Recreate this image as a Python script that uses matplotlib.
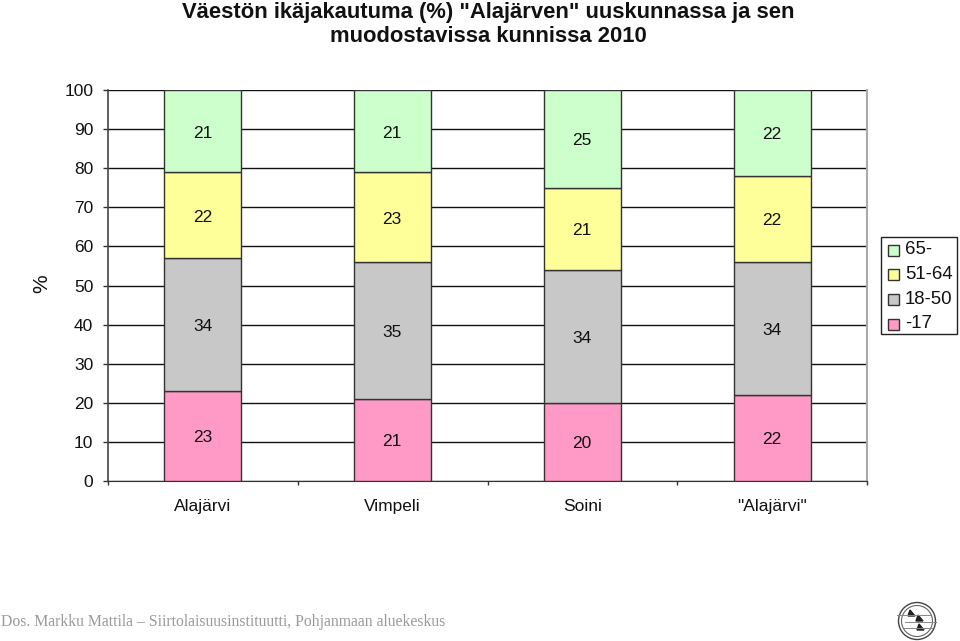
import matplotlib
matplotlib.use("Agg")
import matplotlib.pyplot as plt
import matplotlib.patches as patches
from matplotlib.lines import Line2D

plt.rcParams['font.family'] = ['Liberation Sans', 'DejaVu Sans']

# Data
places = ['Alajärvi', 'Vimpeli', 'Soini', '"Alajärvi"']
age_under18 = [23, 21, 20, 22]
age_18_50 = [34, 35, 34, 34]
age_51_64 = [22, 23, 21, 22]
age_65 = [21, 21, 25, 22]
series_names = ['-17', '18-50', '51-64', '65-']
yticks = [0, 10, 20, 30, 40, 50, 60, 70, 80, 90, 100]

W, H = 960, 641
colours = ['#ff99c6', '#c8c8c8', '#ffff99', '#ccffcc']

fig = plt.figure(figsize=(W / 100, H / 100), dpi=100)
ax = fig.add_axes([108 / W, 1 - 481 / H, (867 - 108) / W, (481 - 90) / H])

# Stacked bars, bottom series first
bottom = [0, 0, 0, 0]
for vals, col, name in zip([age_under18, age_18_50, age_51_64, age_65], colours, series_names):
	ax.bar(range(4), vals, 0.405, bottom=bottom, color=col, edgecolor='#333333', linewidth=1.0, label=name, zorder=3)
	for i in range(4):
		ax.text(i - 0.002, bottom[i] + vals[i] / 2 - 0.5, str(vals[i]), ha='center', va='center', fontsize=12.5, color='#111111', zorder=4)
	bottom = [b + v for b, v in zip(bottom, vals)]

ax.set_xlim(-0.5, 3.5)
ax.set_ylim(0, 100)
ax.set_yticks(yticks)
ax.set_xticks([-0.5, 0.5, 1.5, 2.5, 3.5])
ax.set_xticklabels([])
ax.tick_params(axis='y', length=3.6, width=1, color='#333333', labelsize=12.5, pad=7, labelcolor='#111111')
ax.tick_params(axis='x', length=3.2, width=1, color='#333333')
ax.grid(axis='y', color='#111111', linewidth=1.0, zorder=0)
ax.set_axisbelow(True)
ax.spines['top'].set_visible(False)
ax.spines['left'].set_color('#444444')
ax.spines['left'].set_linewidth(1.2)
ax.spines['bottom'].set_color('#333333')
ax.spines['right'].set_color('#aaaaaa')
ax.spines['right'].set_linewidth(1.5)

for i, p in enumerate(places):
	ax.text(i, -6.5, p, ha='center', va='center', fontsize=12.5, color='#111111')

fig.text(42 / W, 1 - 284 / H, '%', rotation=90, ha='center', va='center', fontsize=15, color='#111111')
fig.text(488 / W, 1 - 12.5 / H, 'Väestön ikäjakautuma (%) "Alajärven" uuskunnassa ja sen', ha='center', va='center',
	fontsize=15.8, fontweight='bold', color='#111111')
fig.text(488 / W, 1 - 36.5 / H, 'muodostavissa kunnissa 2010', ha='center', va='center',
	fontsize=15.8, fontweight='bold', color='#111111')

# Legend drawn by hand, the box has uneven margins
lx = fig.add_axes([0, 0, 1, 1], facecolor='none')
lx.set_xlim(0, W)
lx.set_ylim(H, 0)
lx.axis('off')
lx.add_patch(patches.Rectangle((881, 236.5), 76, 97, fc='white', ec='#222222', lw=1.0))
rows = [250, 274.5, 299, 324]
for row, name, col in zip(rows, series_names[::-1], colours[::-1]):
	lx.add_patch(patches.Rectangle((888, row - 5.5), 11, 11, fc=col, ec='#333333', lw=1.0))
	lx.text(905, row, name, ha='left', va='center', fontsize=13.4, color='#111111')

fig.text(1 / W, 1 - 622 / H, 'Dos. Markku Mattila – Siirtolaisuusinstituutti, Pohjanmaan aluekeskus',
	ha='left', va='center', fontsize=11.3, family='Liberation Serif', color='#9a9a9a')

# Logo bottom right
logo = fig.add_axes([895 / W, 1 - 641 / H, 46 / W, 40 / H])
logo.set_xlim(895, 941)
logo.set_ylim(641, 601)
logo.set_aspect('equal')
logo.axis('off')
logo.add_patch(patches.Circle((917, 621), 18.5, fill=False, ec='#444444', lw=1))
logo.add_patch(patches.Circle((917, 621), 15.5, fill=False, ec='#666666', lw=0.8))
for yy, x0, x1 in [(615, 897, 930), (622, 905, 936), (628, 903, 932)]:
	logo.add_line(Line2D([x0, x1], [yy, yy], color='#888888', lw=0.7))
for cx, cy in [(911, 613), (919, 618), (920, 627)]:
	logo.add_patch(patches.Polygon([(cx - 3, cy + 3), (cx - 1, cy - 3), (cx + 4, cy + 3)], color='#222222'))

fig.savefig('out.png', dpi=100)
